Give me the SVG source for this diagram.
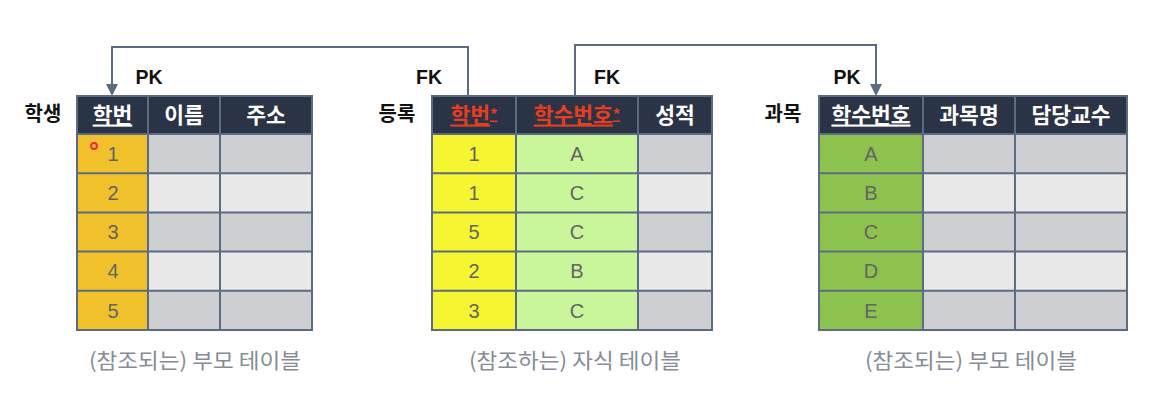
<svg xmlns="http://www.w3.org/2000/svg" width="1170" height="412" viewBox="0 0 1170 412">
<defs>
<style>
.hd{fill:#2b3347}
.ln{stroke:#5b6b82;stroke-width:2;fill:none}
.bd{stroke:#5b6b82;stroke-width:2}
.g{fill:#cdcfd2}
.l{fill:#e8e8e9}
.gold{fill:#f0c12b}
.yel{fill:#f5f532}
.lg{fill:#c9f59b}
.grn{fill:#8ec24e}
.ht{font-family:"Noto Sans CJK KR","Noto Sans",sans-serif;font-weight:bold;font-size:21.5px;fill:#ffffff;text-anchor:middle}
.red{fill:#e83d1f}
.ct{font-family:"Liberation Sans",Arial,sans-serif;font-size:20px;fill:#646464;text-anchor:middle}
.tn{font-family:"Noto Sans CJK KR","Noto Sans",sans-serif;font-weight:bold;font-size:20px;fill:#111111;text-anchor:middle}
.k{font-family:"Liberation Sans",Arial,sans-serif;font-weight:bold;font-size:19.5px;fill:#111111;text-anchor:middle}
.cap{font-family:"Noto Sans CJK KR","Liberation Sans",sans-serif;font-size:21px;fill:#868b95;text-anchor:middle}
</style>
<marker id="ah" viewBox="0 0 12 12" refX="10" refY="6" markerWidth="12" markerHeight="12" markerUnits="userSpaceOnUse" orient="auto">
<path d="M0,0 L12,6 L0,12 z" fill="#5b6b82"/>
</marker>
</defs>
<rect width="1170" height="412" fill="#ffffff"/>

<g id="connectors">
<path class="ln" d="M468,96 V47 H112 V94" marker-end="url(#ah)"/>
<path class="ln" d="M575,96 V45 H876 V94" marker-end="url(#ah)"/>
<text class="k" x="149" y="84">PK</text>
<text class="k" x="429" y="84">FK</text>
<text class="k" x="607" y="84">FK</text>
<text class="k" x="847" y="84">PK</text>
</g>

<g id="student">
<text class="tn" x="43" y="121">학생</text>
<rect class="hd" x="77" y="96" width="235" height="38"/>
<rect class="gold" x="77" y="134" width="71" height="196"/>
<rect class="g" x="148" y="134" width="164" height="39.2"/>
<rect class="l" x="148" y="173.2" width="164" height="39.2"/>
<rect class="g" x="148" y="212.4" width="164" height="39.2"/>
<rect class="l" x="148" y="251.6" width="164" height="39.2"/>
<rect class="g" x="148" y="290.8" width="164" height="39.2"/>
<g class="bd">
<rect x="77" y="96" width="235" height="234" fill="none"/>
<line x1="148" y1="96" x2="148" y2="330"/><line x1="220" y1="96" x2="220" y2="330"/>
<line x1="77" y1="134" x2="312" y2="134"/><line x1="77" y1="173.2" x2="312" y2="173.2"/>
<line x1="77" y1="212.4" x2="312" y2="212.4"/><line x1="77" y1="251.6" x2="312" y2="251.6"/>
<line x1="77" y1="290.8" x2="312" y2="290.8"/>
</g>
<text class="ht" x="112.5" y="122.5" text-decoration="underline">학번</text>
<text class="ht" x="184" y="122.5">이름</text>
<text class="ht" x="266" y="122.5">주소</text>
<text class="ct" x="113" y="161">1</text>
<text class="ct" x="113" y="200">2</text>
<text class="ct" x="113" y="239">3</text>
<text class="ct" x="113" y="278">4</text>
<text class="ct" x="113" y="317.5">5</text>
<circle cx="94" cy="146" r="5.5" fill="#f7a48c" opacity="0.5"/>
<circle cx="94" cy="146" r="3" fill="none" stroke="#e8331f" stroke-width="1.8"/>
<text class="cap" x="195" y="368" textLength="212" lengthAdjust="spacingAndGlyphs">(참조되는) 부모 테이블</text>
</g>

<g id="enroll">
<text class="tn" x="397" y="121">등록</text>
<rect class="hd" x="432" y="96" width="280" height="38"/>
<rect class="yel" x="432" y="134" width="84" height="196"/>
<rect class="lg" x="516" y="134" width="122" height="196"/>
<rect class="g" x="638" y="134" width="74" height="39.2"/>
<rect class="l" x="638" y="173.2" width="74" height="39.2"/>
<rect class="g" x="638" y="212.4" width="74" height="39.2"/>
<rect class="l" x="638" y="251.6" width="74" height="39.2"/>
<rect class="g" x="638" y="290.8" width="74" height="39.2"/>
<g class="bd">
<rect x="432" y="96" width="280" height="234" fill="none"/>
<line x1="516" y1="96" x2="516" y2="330"/><line x1="638" y1="96" x2="638" y2="330"/>
<line x1="432" y1="134" x2="712" y2="134"/><line x1="432" y1="173.2" x2="712" y2="173.2"/>
<line x1="432" y1="212.4" x2="712" y2="212.4"/><line x1="432" y1="251.6" x2="712" y2="251.6"/>
<line x1="432" y1="290.8" x2="712" y2="290.8"/>
</g>
<text class="ht red" x="474" y="122.5" text-decoration="underline">학번<tspan font-size="15px" dy="-3">*</tspan></text>
<text class="ht red" x="577" y="122.5" text-decoration="underline">학수번호<tspan font-size="15px" dy="-3">*</tspan></text>
<text class="ht" x="675" y="122.5">성적</text>
<text class="ct" x="474" y="161">1</text>
<text class="ct" x="474" y="200">1</text>
<text class="ct" x="474" y="239">5</text>
<text class="ct" x="474" y="278">2</text>
<text class="ct" x="474" y="317.5">3</text>
<text class="ct" x="577" y="161">A</text>
<text class="ct" x="577" y="200">C</text>
<text class="ct" x="577" y="239">C</text>
<text class="ct" x="577" y="278">B</text>
<text class="ct" x="577" y="317.5">C</text>
<text class="cap" x="575" y="368" textLength="212" lengthAdjust="spacingAndGlyphs">(참조하는) 자식 테이블</text>
</g>

<g id="course">
<text class="tn" x="783" y="121">과목</text>
<rect class="hd" x="819" y="96" width="308" height="38"/>
<rect class="grn" x="819" y="134" width="104" height="196"/>
<rect class="g" x="923" y="134" width="204" height="39.2"/>
<rect class="l" x="923" y="173.2" width="204" height="39.2"/>
<rect class="g" x="923" y="212.4" width="204" height="39.2"/>
<rect class="l" x="923" y="251.6" width="204" height="39.2"/>
<rect class="g" x="923" y="290.8" width="204" height="39.2"/>
<g class="bd">
<rect x="819" y="96" width="308" height="234" fill="none"/>
<line x1="923" y1="96" x2="923" y2="330"/><line x1="1015" y1="96" x2="1015" y2="330"/>
<line x1="819" y1="134" x2="1127" y2="134"/><line x1="819" y1="173.2" x2="1127" y2="173.2"/>
<line x1="819" y1="212.4" x2="1127" y2="212.4"/><line x1="819" y1="251.6" x2="1127" y2="251.6"/>
<line x1="819" y1="290.8" x2="1127" y2="290.8"/>
</g>
<text class="ht" x="871" y="122.5" text-decoration="underline">학수번호</text>
<text class="ht" x="969" y="122.5">과목명</text>
<text class="ht" x="1071" y="122.5">담당교수</text>
<text class="ct" x="871" y="161">A</text>
<text class="ct" x="871" y="200">B</text>
<text class="ct" x="871" y="239">C</text>
<text class="ct" x="871" y="278">D</text>
<text class="ct" x="871" y="317.5">E</text>
<text class="cap" x="971" y="368" textLength="212" lengthAdjust="spacingAndGlyphs">(참조되는) 부모 테이블</text>
</g>
</svg>
